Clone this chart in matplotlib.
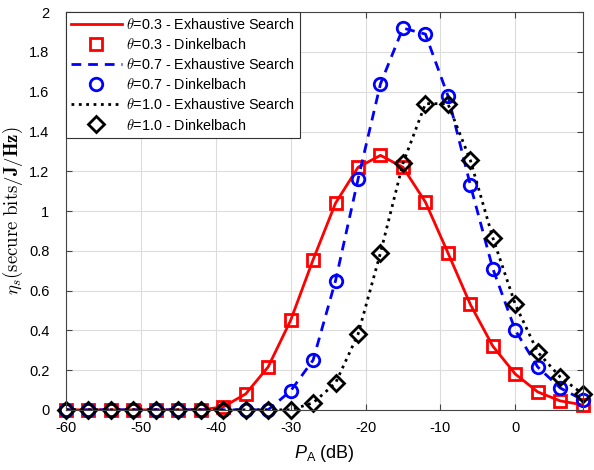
import matplotlib
matplotlib.use('Agg')
import matplotlib.pyplot as plt
import numpy as np

plt.rcParams['font.family'] = 'Liberation Sans'
plt.rcParams['mathtext.fontset'] = 'custom'
plt.rcParams['mathtext.rm'] = 'Liberation Sans'
plt.rcParams['mathtext.it'] = 'Liberation Sans:italic'
plt.rcParams['axes.unicode_minus'] = False
plt.rcParams['xtick.labelsize'] = 10.5
plt.rcParams['ytick.labelsize'] = 10.5

pa_db = np.arange(-60, 10, 3)

eta_03 = [0, 0, 0, 0, 0, 0, 0, 0.015, 0.08, 0.216, 0.45, 0.755,
          1.04, 1.22, 1.28, 1.22, 1.045, 0.79, 0.53, 0.32, 0.18, 0.09, 0.045, 0.025]
eta_07 = [0, 0, 0, 0, 0, 0, 0, 0, 0, 0, 0.095, 0.25,
          0.65, 1.16, 1.64, 1.92, 1.89, 1.58, 1.13, 0.71, 0.40, 0.215, 0.11, 0.05]
eta_10 = [0, 0, 0, 0, 0, 0, 0, 0, 0, 0, 0, 0.035,
          0.135, 0.38, 0.79, 1.24, 1.54, 1.54, 1.255, 0.865, 0.53, 0.29, 0.165, 0.08]

fig = plt.figure(figsize=(5.94, 4.70), dpi=100)
ax = fig.add_axes([0.111, 0.128, 0.870, 0.846])

ax.plot(pa_db, eta_03, '-', color='red', lw=2, label=r'$\theta$=0.3 - Exhaustive Search')
ax.plot(pa_db, eta_03, 's', color='red', ms=8, mfc='none', mew=2, clip_on=False,
        label=r'$\theta$=0.3 - Dinkelbach')
ax.plot(pa_db, eta_07, '--', color='blue', lw=2, dashes=(3.5, 2.5), label=r'$\theta$=0.7 - Exhaustive Search')
ax.plot(pa_db, eta_07, 'o', color='blue', ms=9, mfc='none', mew=2, clip_on=False,
        label=r'$\theta$=0.7 - Dinkelbach')
ax.plot(pa_db, eta_10, ':', color='black', lw=2, label=r'$\theta$=1.0 - Exhaustive Search')
ax.plot(pa_db, eta_10, 'D', color='black', ms=8, mfc='none', mew=2, clip_on=False,
        label=r'$\theta$=1.0 - Dinkelbach')

ax.set_xlim(-60, 9)
ax.set_ylim(0, 2)
ax.set_xticks(np.arange(-60, 1, 10))
ax.set_yticks(np.arange(0, 2.01, 0.2))
ax.set_yticklabels(['0', '0.2', '0.4', '0.6', '0.8', '1', '1.2', '1.4', '1.6', '1.8', '2'])
ax.grid(True, color='#dcdcdc', lw=0.8)
ax.set_axisbelow(True)
ax.tick_params(direction='in', top=True, right=True, length=4, color='#444444')
ax.tick_params(axis='x', pad=8)
ax.tick_params(axis='y', pad=12)
for s in ax.spines.values():
    s.set_color('#444444')

ax.set_xlabel(r'$P_\mathrm{A}$ (dB)', fontsize=13, labelpad=6)
ax.set_ylabel(r'$\eta_s(\mathrm{secure\ bits}/\mathbf{J}/\mathbf{Hz})$', fontsize=13.5,
              math_fontfamily='cm', labelpad=3)

leg = ax.legend(loc='upper left', fontsize=10.4, borderaxespad=0, fancybox=False,
                framealpha=1, edgecolor='#333333', handlelength=3.5, labelspacing=0.35,
                handletextpad=0.3, borderpad=0.35)
leg.get_frame().set_linewidth(0.8)
for t in leg.get_texts():
    t.set_math_fontfamily('cm')

fig.savefig('out.png', dpi=100)
